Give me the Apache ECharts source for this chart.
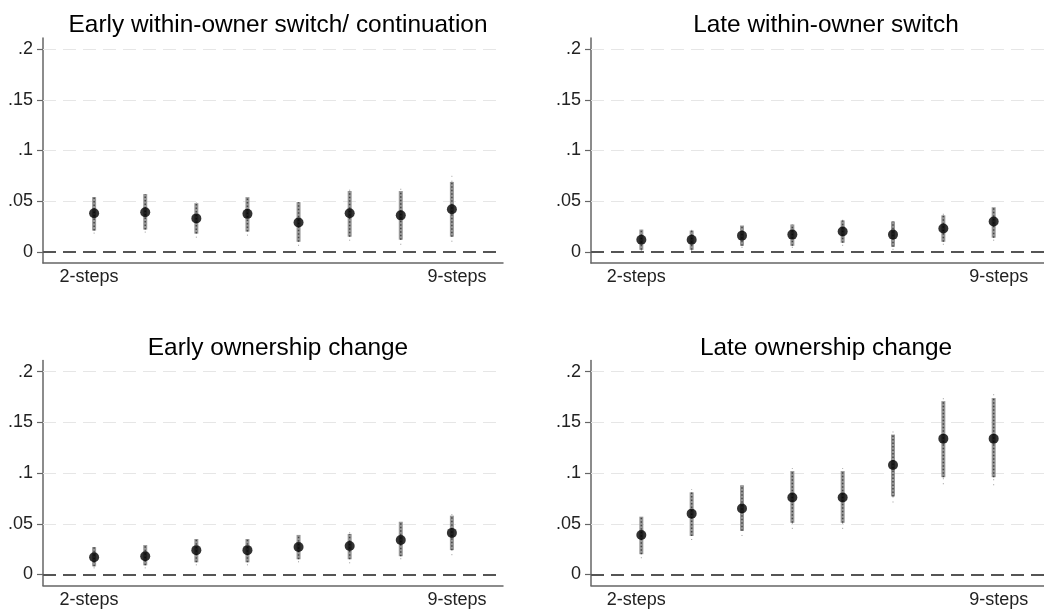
<!DOCTYPE html>
<html><head><meta charset="utf-8">
<script src="https://cdn.jsdelivr.net/npm/echarts@6/dist/echarts.min.js"></script>
<style>html,body{margin:0;padding:0;background:#fff}#c{width:1044px;height:614px}</style>
</head><body><div id="c"></div>
<script>
const steps = [2,3,4,5,6,7,8,9];
const xTickValues = [2,9];
const yTickValues = [0,0.05,0.1,0.15,0.2];
const titles = ["Early within-owner switch/ continuation","Late within-owner switch","Early ownership change","Late ownership change"];

const earlyWithinEst = [0.038,0.039,0.033,0.0375,0.029,0.038,0.036,0.042];
const earlyWithinLo  = [0.021,0.022,0.018,0.020,0.010,0.015,0.012,0.015];
const earlyWithinHi  = [0.054,0.057,0.048,0.054,0.049,0.060,0.060,0.069];
const earlyWithinLo2 = [0.018,0.019,0.014,0.016,0.006,0.011,0.007,0.010];
const earlyWithinHi2 = [0.057,0.058,0.049,0.055,0.050,0.065,0.065,0.075];

const lateWithinEst = [0.012,0.012,0.016,0.017,0.020,0.017,0.023,0.030];
const lateWithinLo  = [0.002,0.002,0.006,0.006,0.009,0.005,0.010,0.014];
const lateWithinHi  = [0.022,0.021,0.026,0.027,0.031,0.030,0.036,0.044];
const lateWithinLo2 = [0.001,0.001,0.004,0.004,0.006,0.002,0.007,0.011];
const lateWithinHi2 = [0.023,0.022,0.027,0.028,0.034,0.031,0.039,0.045];

const earlyOwnEst = [0.017,0.018,0.024,0.024,0.027,0.028,0.034,0.041];
const earlyOwnLo  = [0.008,0.009,0.012,0.012,0.015,0.015,0.018,0.024];
const earlyOwnHi  = [0.027,0.029,0.035,0.035,0.039,0.040,0.052,0.058];
const earlyOwnLo2 = [0.006,0.006,0.009,0.009,0.012,0.011,0.015,0.019];
const earlyOwnHi2 = [0.028,0.030,0.037,0.037,0.040,0.044,0.053,0.062];

const lateOwnEst = [0.039,0.060,0.065,0.076,0.076,0.108,0.134,0.134];
const lateOwnLo  = [0.020,0.038,0.043,0.051,0.051,0.077,0.096,0.096];
const lateOwnHi  = [0.057,0.081,0.088,0.102,0.102,0.138,0.171,0.174];
const lateOwnLo2 = [0.016,0.034,0.038,0.045,0.045,0.071,0.089,0.088];
const lateOwnHi2 = [0.060,0.084,0.092,0.105,0.105,0.142,0.175,0.180];

const panels = [
  {est:earlyWithinEst, lo:earlyWithinLo, hi:earlyWithinHi, lo2:earlyWithinLo2, hi2:earlyWithinHi2},
  {est:lateWithinEst, lo:lateWithinLo, hi:lateWithinHi, lo2:lateWithinLo2, hi2:lateWithinHi2},
  {est:earlyOwnEst, lo:earlyOwnLo, hi:earlyOwnHi, lo2:earlyOwnLo2, hi2:earlyOwnHi2},
  {est:lateOwnEst, lo:lateOwnLo, hi:lateOwnHi, lo2:lateOwnLo2, hi2:lateOwnHi2}
];

const FONT = 'Liberation Sans, Arial, sans-serif';
const gridPos = [
  {left:43, top:38, width:460, height:225},
  {left:591, top:38, width:460, height:225},
  {left:43, top:360.6, width:460, height:225},
  {left:591, top:360.6, width:460, height:225}
];
const titleTops = [8, 331];

const chart = echarts.init(document.getElementById('c'), null, {renderer:'canvas'});
const option = {
  animation:false,
  backgroundColor:'#fff',
  title: titles.map((t,i)=>({
    text:t, left: gridPos[i].left + gridPos[i].width/2, top: titleTops[Math.floor(i/2)],
    textAlign:'center',
    textStyle:{fontFamily:FONT, fontSize:24.4, fontWeight:'normal', color:'#000'}
  })),
  grid: gridPos.map(g=>Object.assign({containLabel:false}, g)),
  xAxis: gridPos.map((g,i)=>({
    type:'value', gridIndex:i, min:1, max:10,
    axisLine:{show:true, onZero:false, lineStyle:{color:'#666', width:1.5}},
    axisTick:{show:false},
    splitLine:{show:false},
    axisLabel:{
      customValues:xTickValues,
      formatter:v=> v===2 ? '{a|'+v+'-steps}' : '{b|'+v+'-steps}',
      fontFamily:FONT, fontSize:18, color:'#222', margin:5,
      rich:{
        a:{fontFamily:FONT, fontSize:18, color:'#222', padding:[0,10,0,0]},
        b:{fontFamily:FONT, fontSize:18, color:'#222', padding:[0,0,0,10]}
      }
    }
  })),
  yAxis: gridPos.map((g,i)=>({
    type:'value', gridIndex:i, min:-0.011, max:0.211,
    axisLine:{show:true, onZero:false, lineStyle:{color:'#666', width:1.5}},
    axisTick:{show:true, customValues:yTickValues, length:6, lineStyle:{color:'#666', width:1.2}},
    splitLine:{show:false},
    axisLabel:{customValues:yTickValues, formatter:v=>v===0?'0':String(+v.toFixed(3)).replace(/^0/,''), fontFamily:FONT, fontSize:18, color:'#222', margin:10}
  })),
  series: []
};

panels.forEach((p,i)=>{
  const ciData = steps.map((s,k)=>[s, p.lo2[k], p.lo[k], p.hi[k], p.hi2[k]]);
  option.series.push({
    type:'custom', xAxisIndex:i, yAxisIndex:i, z:3,
    data:ciData,
    encode:{x:0, y:[1,4]},
    renderItem:(params, api)=>{
      const x = api.value(0);
      const a = api.coord([x, api.value(1)]);
      const b = api.coord([x, api.value(2)]);
      const c = api.coord([x, api.value(3)]);
      const d = api.coord([x, api.value(4)]);
      return {type:'group', children:[
        {type:'line', shape:{x1:a[0], y1:a[1], x2:d[0], y2:d[1]}, style:{stroke:'#999', lineWidth:1, lineDash:[1,4]}},
        {type:'line', shape:{x1:b[0], y1:b[1], x2:c[0], y2:c[1]}, style:{stroke:'#989898', lineWidth:4}},
        {type:'line', shape:{x1:b[0], y1:b[1], x2:c[0], y2:c[1]}, style:{stroke:'#444', lineWidth:1.5, lineDash:[1.5,2]}}
      ]};
    }
  });
  option.series.push({
    type:'scatter', xAxisIndex:i, yAxisIndex:i, z:5,
    data: steps.map((s,k)=>[s, p.est[k]]),
    symbol:'circle', symbolSize:10,
    itemStyle:{color:'#000'},
    markLine:{
      silent:true, symbol:'none', label:{show:false}, z:1,
      data:[
        {yAxis:0.05, lineStyle:{color:'#e6e6e6', width:1, type:[13,7]}},
        {yAxis:0.1, lineStyle:{color:'#e6e6e6', width:1, type:[13,7]}},
        {yAxis:0.15, lineStyle:{color:'#e6e6e6', width:1, type:[13,7]}},
        {yAxis:0.2, lineStyle:{color:'#e6e6e6', width:1, type:[13,7]}},
        {yAxis:0, lineStyle:{color:'#555', width:2, type:[13,7]}}
      ]
    }
  });
});
chart.setOption(option);
</script></body></html>
